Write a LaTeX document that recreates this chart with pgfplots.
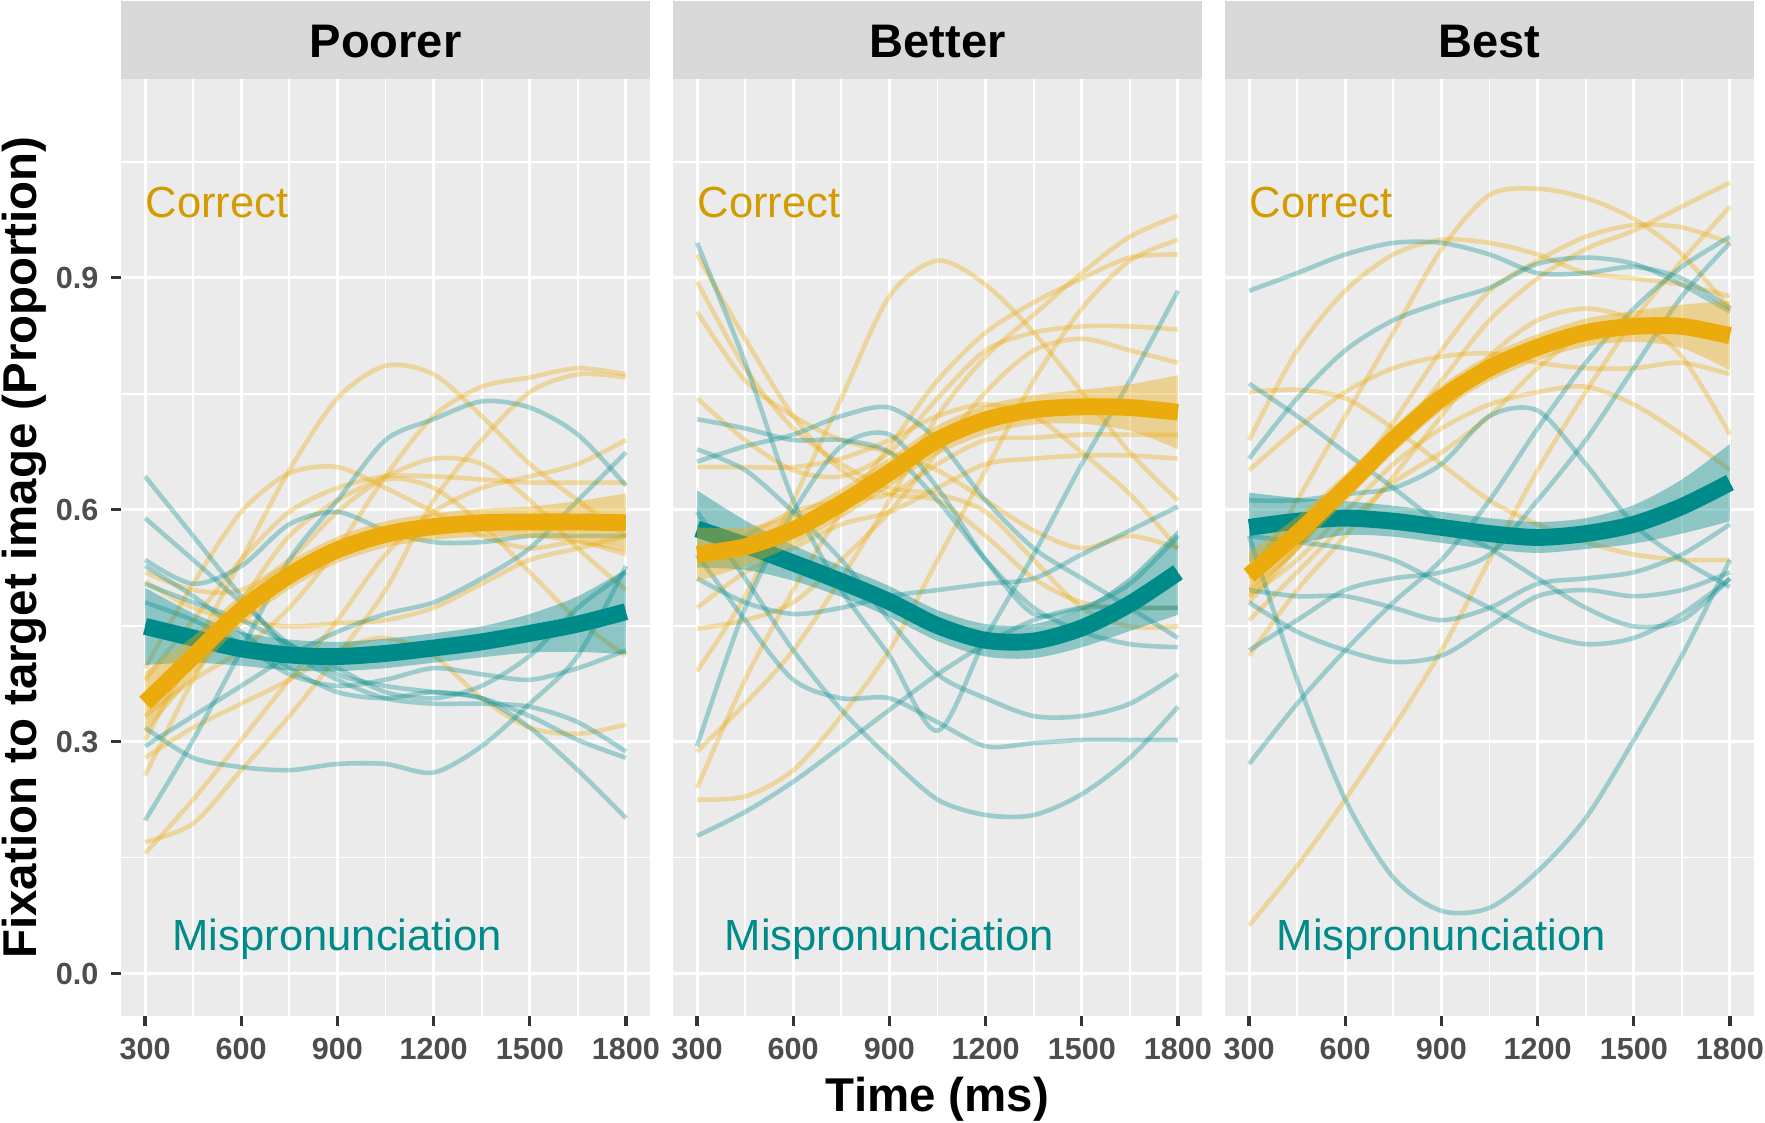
\documentclass[border=0pt]{standalone}
\usepackage{fontspec}
\setmainfont{Liberation Sans}
\usepackage{pgfplots}
\pgfplotsset{compat=1.18}
\usepackage{pgfplotstable}
\usepgfplotslibrary{fillbetween}

\definecolor{gold}{HTML}{ECAB0C}
\definecolor{tealc}{HTML}{008B8B}
\definecolor{goldtxt}{HTML}{D49B00}
\definecolor{panelbg}{HTML}{EBEBEB}
\definecolor{stripbg}{HTML}{D9D9D9}
\definecolor{ticklab}{HTML}{4D4D4D}
\definecolor{tickcol}{HTML}{333333}

\newcommand\tickfont{\fontsize{8.7pt}{10pt}\selectfont\bfseries}
\newcommand\stripfont{\fontsize{13.4pt}{16pt}\selectfont\bfseries}
\newcommand\titlefont{\fontsize{13.5pt}{16pt}\selectfont\bfseries}
\newcommand\annfont{\fontsize{12.4pt}{15pt}\selectfont}

% smoothed means with ribbons: y* = Correct, t* = Mispronunciation
\pgfplotstableread{
t    ym    ylo   yhi   tm    tlo   thi
300  0.350 0.310 0.390 0.449 0.399 0.499
450  0.410 0.384 0.436 0.434 0.402 0.466
600  0.470 0.450 0.490 0.420 0.398 0.442
750  0.515 0.497 0.533 0.412 0.392 0.432
900  0.548 0.531 0.565 0.410 0.391 0.429
1050 0.568 0.551 0.585 0.414 0.395 0.433
1200 0.578 0.561 0.595 0.421 0.402 0.440
1350 0.583 0.565 0.601 0.429 0.409 0.449
1500 0.584 0.564 0.604 0.440 0.415 0.465
1650 0.584 0.557 0.611 0.452 0.416 0.488
1800 0.583 0.545 0.621 0.468 0.413 0.523
}\pAm
\pgfplotstableread{
t    ym    ylo   yhi   tm    tlo   thi
300  0.542 0.507 0.577 0.575 0.525 0.625
450  0.552 0.527 0.577 0.554 0.522 0.586
600  0.574 0.554 0.594 0.531 0.508 0.554
750  0.608 0.589 0.627 0.507 0.487 0.527
900  0.648 0.629 0.667 0.481 0.461 0.501
1050 0.690 0.671 0.709 0.450 0.430 0.470
1200 0.716 0.697 0.735 0.431 0.410 0.452
1350 0.729 0.710 0.748 0.430 0.408 0.452
1500 0.733 0.711 0.755 0.447 0.422 0.472
1650 0.732 0.702 0.762 0.478 0.443 0.513
1800 0.726 0.678 0.774 0.519 0.464 0.574
}\pBm
\pgfplotstableread{
t    ym    ylo   yhi   tm    tlo   thi
300  0.515 0.485 0.545 0.577 0.532 0.622
450  0.569 0.547 0.591 0.585 0.555 0.615
600  0.628 0.610 0.646 0.589 0.567 0.611
750  0.690 0.673 0.707 0.585 0.565 0.605
900  0.744 0.727 0.761 0.577 0.557 0.597
1050 0.783 0.766 0.800 0.569 0.549 0.589
1200 0.810 0.793 0.827 0.564 0.544 0.584
1350 0.829 0.811 0.847 0.569 0.549 0.589
1500 0.837 0.817 0.857 0.581 0.556 0.606
1650 0.837 0.809 0.865 0.604 0.569 0.639
1800 0.825 0.780 0.870 0.635 0.585 0.685
}\pCm

% individual participants, Poorer
\pgfplotstableread{
t    a     b     c     d     e     f     g     h     i     j
300  0.170 0.302 0.256 0.395 0.333 0.507 0.279 0.519 0.155 0.380
450  0.194 0.418 0.380 0.504 0.380 0.473 0.318 0.496 0.225 0.457
600  0.263 0.535 0.480 0.597 0.418 0.457 0.349 0.496 0.302 0.535
750  0.333 0.651 0.566 0.647 0.473 0.449 0.380 0.535 0.380 0.597
900  0.411 0.744 0.612 0.655 0.550 0.453 0.418 0.597 0.457 0.628
1050 0.496 0.786 0.643 0.628 0.643 0.457 0.434 0.639 0.542 0.643
1200 0.612 0.775 0.666 0.597 0.721 0.473 0.411 0.628 0.597 0.643
1350 0.690 0.721 0.659 0.566 0.759 0.504 0.356 0.581 0.628 0.639
1500 0.752 0.659 0.612 0.550 0.771 0.535 0.318 0.519 0.643 0.635
1650 0.775 0.612 0.550 0.558 0.783 0.550 0.310 0.457 0.659 0.635
1800 0.771 0.566 0.496 0.542 0.775 0.566 0.322 0.411 0.690 0.635
}\pAy
\pgfplotstableread{
t    a     b     c     d     e     f     g     h     i
300  0.643 0.589 0.198 0.535 0.318 0.294 0.480 0.504 0.527
450  0.566 0.535 0.302 0.504 0.279 0.333 0.457 0.480 0.488
600  0.488 0.480 0.418 0.527 0.267 0.372 0.426 0.457 0.442
750  0.418 0.426 0.535 0.581 0.263 0.411 0.387 0.426 0.395
900  0.380 0.387 0.612 0.597 0.271 0.442 0.372 0.395 0.364
1050 0.356 0.372 0.690 0.573 0.271 0.465 0.380 0.364 0.356
1200 0.349 0.364 0.717 0.558 0.260 0.480 0.395 0.356 0.364
1350 0.349 0.356 0.740 0.558 0.294 0.511 0.387 0.372 0.356
1500 0.345 0.318 0.732 0.566 0.349 0.550 0.380 0.411 0.333
1650 0.325 0.263 0.697 0.566 0.411 0.612 0.395 0.473 0.302
1800 0.287 0.201 0.631 0.566 0.527 0.674 0.418 0.519 0.279
}\pAt

% Better
\pgfplotstableread{
t    a     b     c     d     e     f     g     h     i     j     k     l
300  0.225 0.240 0.287 0.391 0.895 0.856 0.930 0.744 0.655 0.535 0.473 0.446
450  0.229 0.380 0.349 0.488 0.783 0.767 0.821 0.690 0.655 0.566 0.519 0.457
600  0.263 0.496 0.418 0.612 0.705 0.721 0.721 0.651 0.655 0.597 0.550 0.480
750  0.333 0.597 0.511 0.744 0.659 0.690 0.651 0.643 0.666 0.612 0.581 0.535
900  0.418 0.682 0.612 0.876 0.628 0.674 0.620 0.674 0.690 0.620 0.597 0.597
1050 0.535 0.767 0.721 0.922 0.620 0.651 0.612 0.744 0.721 0.659 0.628 0.674
1200 0.651 0.829 0.798 0.891 0.597 0.612 0.566 0.806 0.736 0.690 0.659 0.752
1350 0.767 0.868 0.852 0.829 0.535 0.573 0.511 0.829 0.721 0.693 0.666 0.806
1500 0.860 0.899 0.906 0.752 0.473 0.550 0.480 0.837 0.674 0.697 0.670 0.821
1650 0.922 0.926 0.953 0.674 0.449 0.566 0.473 0.837 0.620 0.697 0.670 0.806
1800 0.949 0.930 0.980 0.612 0.449 0.550 0.473 0.833 0.550 0.697 0.666 0.790
}\pBy
\pgfplotstableread{
t    a     b     c     d     e     f     g     h     i
300  0.945 0.717 0.678 0.662 0.294 0.511 0.178 0.597 0.542
450  0.790 0.705 0.651 0.682 0.473 0.480 0.209 0.511 0.457
600  0.612 0.690 0.597 0.697 0.597 0.465 0.248 0.418 0.380
750  0.496 0.690 0.535 0.721 0.682 0.473 0.294 0.341 0.356
900  0.411 0.674 0.457 0.732 0.697 0.488 0.341 0.279 0.356
1050 0.314 0.612 0.387 0.690 0.628 0.496 0.387 0.225 0.325
1200 0.434 0.535 0.356 0.612 0.535 0.504 0.426 0.205 0.294
1350 0.542 0.473 0.333 0.550 0.465 0.511 0.457 0.205 0.298
1500 0.659 0.442 0.333 0.511 0.473 0.542 0.473 0.232 0.302
1650 0.767 0.426 0.349 0.473 0.504 0.573 0.473 0.279 0.302
1800 0.883 0.422 0.387 0.434 0.566 0.604 0.473 0.345 0.302
}\pBt

% Best
\pgfplotstableread{
t    a     b     c     d     e     f     g     h     i     j
300  0.062 0.690 0.511 0.752 0.651 0.496 0.411 0.488 0.480 0.457
450  0.139 0.806 0.612 0.755 0.705 0.550 0.496 0.535 0.550 0.519
600  0.225 0.883 0.721 0.744 0.752 0.628 0.566 0.597 0.620 0.581
750  0.318 0.930 0.829 0.705 0.783 0.713 0.643 0.659 0.690 0.635
900  0.418 0.949 0.937 0.659 0.798 0.806 0.721 0.705 0.767 0.674
1050 0.535 0.945 1.007 0.612 0.802 0.883 0.798 0.736 0.845 0.721
1200 0.651 0.930 1.015 0.581 0.790 0.922 0.845 0.752 0.899 0.783
1350 0.752 0.906 1.003 0.558 0.783 0.953 0.860 0.759 0.937 0.829
1500 0.845 0.899 0.976 0.542 0.783 0.968 0.845 0.736 0.961 0.845
1650 0.922 0.891 0.930 0.535 0.790 0.965 0.798 0.697 0.992 0.837
1800 0.992 0.876 0.860 0.535 0.775 0.945 0.697 0.651 1.023 0.829
}\pCy
\pgfplotstableread{
t    a     b     c     d     e     f     g     h     i     j
300  0.883 0.763 0.666 0.566 0.271 0.496 0.480 0.566 0.612 0.418
450  0.906 0.721 0.744 0.380 0.349 0.488 0.442 0.558 0.612 0.457
600  0.930 0.674 0.806 0.225 0.418 0.488 0.418 0.550 0.620 0.496
750  0.945 0.628 0.845 0.124 0.480 0.473 0.403 0.535 0.628 0.511
900  0.945 0.581 0.868 0.081 0.535 0.457 0.411 0.504 0.659 0.519
1050 0.930 0.550 0.887 0.085 0.612 0.473 0.449 0.473 0.721 0.542
1200 0.906 0.511 0.918 0.132 0.705 0.504 0.488 0.442 0.728 0.612
1350 0.906 0.473 0.926 0.201 0.790 0.511 0.496 0.426 0.659 0.690
1500 0.914 0.449 0.918 0.302 0.860 0.519 0.488 0.434 0.581 0.783
1650 0.899 0.457 0.891 0.411 0.914 0.542 0.496 0.465 0.535 0.876
1800 0.860 0.511 0.856 0.535 0.953 0.581 0.519 0.511 0.500 0.945
}\pCt

\pgfplotsset{
  facet/.style={
    scale only axis, width=52.9mm, height=93.7mm, anchor=south west,
    xmin=225, xmax=1875, ymin=-0.055, ymax=1.157,
    xtick={300,600,900,1200,1500,1800},
    xticklabels={300,600,900,1200,1500,1800},
    ytick={0,0.3,0.6,0.9},
    minor xtick={450,750,1050,1350,1650},
    minor ytick={0.15,0.45,0.75,1.05},
    grid=both,
    major grid style={draw=white, line width=0.85pt},
    minor grid style={draw=white, line width=0.55pt},
    axis background/.style={fill=panelbg},
    axis line style={draw=none},
    major tick length=0pt, minor tick length=0pt,
    xticklabel style={font=\tickfont, text=ticklab, anchor=north, inner sep=0pt, yshift=-2.1mm},
    yticklabel style={font=\tickfont, text=ticklab, anchor=east, inner sep=0pt, xshift=-2.2mm},
    clip=false, no markers,
  },
  thinY/.style={draw=gold, opacity=0.35, line width=1.3pt, smooth, forget plot},
  thinT/.style={draw=tealc, opacity=0.33, line width=1.3pt, smooth, forget plot},
  mainY/.style={draw=gold, line width=4.8pt, smooth, forget plot},
  mainT/.style={draw=tealc, line width=4.8pt, smooth, forget plot},
}

% ribbons + mean lines, teal first so the gold one sits on top
\newcommand\means[2]{%
  \addplot[draw=none, smooth, name path=#2tl] table[x=t, y=tlo] {#1};
  \addplot[draw=none, smooth, name path=#2th] table[x=t, y=thi] {#1};
  \addplot[fill=tealc, fill opacity=0.4, draw=none] fill between[of=#2tl and #2th, on layer=main];
  \addplot[mainT] table[x=t, y=tm] {#1};
  \addplot[draw=none, smooth, name path=#2yl] table[x=t, y=ylo] {#1};
  \addplot[draw=none, smooth, name path=#2yh] table[x=t, y=yhi] {#1};
  \addplot[fill=gold, fill opacity=0.4, draw=none] fill between[of=#2yl and #2yh, on layer=main];
  \addplot[mainY] table[x=t, y=ym] {#1};
}
\newcommand\decor[1]{%
  \node[anchor=base west, inner sep=0pt, text=goldtxt, font=\annfont] at (axis cs:300,0.978) {Correct};
  \node[anchor=base, inner sep=0pt, text=tealc, font=\annfont] at (axis cs:900,0.03) {Mispronunciation};
  \fill[stripbg] (rel axis cs:0,1) rectangle ([yshift=7.8mm]rel axis cs:1,1);
  \node[anchor=base, inner sep=0pt, font=\stripfont] at ([yshift=2.13mm]rel axis cs:0.5,1) {#1};
  \pgfplotsinvokeforeach{300,600,900,1200,1500,1800}{
    \draw[tickcol, line width=0.9pt] (axis cs:##1,-0.055) -- ++(0pt,-1mm);}
}

\begin{document}
\begin{tikzpicture}

\begin{axis}[facet, at={(0,0)}, yticklabels={0.0,0.3,0.6,0.9}]
\pgfplotsinvokeforeach{a,b,c,d,e,f,g,h,i,j}{\addplot[thinY] table[x=t, y=#1] {\pAy};}
\pgfplotsinvokeforeach{a,b,c,d,e,f,g,h,i}{\addplot[thinT] table[x=t, y=#1] {\pAt};}
\means{\pAm}{A}
\decor{Poorer}
\pgfplotsinvokeforeach{0,0.3,0.6,0.9}{
  \draw[tickcol, line width=0.9pt] (axis cs:225,#1) -- ++(-1mm,0pt);}
\node[rotate=90, anchor=base, inner sep=0pt, font=\titlefont]
  at ([xshift=-8.4mm]rel axis cs:0,0.5) {Fixation to target image (Proportion)};
\end{axis}

\begin{axis}[facet, at={(55.2mm,0)}, yticklabels={}]
\pgfplotsinvokeforeach{a,b,c,d,e,f,g,h,i,j,k,l}{\addplot[thinY] table[x=t, y=#1] {\pBy};}
\pgfplotsinvokeforeach{a,b,c,d,e,f,g,h,i}{\addplot[thinT] table[x=t, y=#1] {\pBt};}
\means{\pBm}{B}
\decor{Better}
\node[anchor=base, inner sep=0pt, font=\titlefont]
  at ([yshift=-9.5mm]rel axis cs:0.5,0) {Time (ms)};
\end{axis}

\begin{axis}[facet, at={(110.4mm,0)}, yticklabels={}]
\pgfplotsinvokeforeach{a,b,c,d,e,f,g,h,i,j}{\addplot[thinY] table[x=t, y=#1] {\pCy};}
\pgfplotsinvokeforeach{a,b,c,d,e,f,g,h,i,j}{\addplot[thinT] table[x=t, y=#1] {\pCt};}
\means{\pCm}{C}
\decor{Best}
\end{axis}

\pgfresetboundingbox
\useasboundingbox (-12.1mm,-10.6mm) rectangle (164.4mm,101.6mm);
\end{tikzpicture}
\end{document}
